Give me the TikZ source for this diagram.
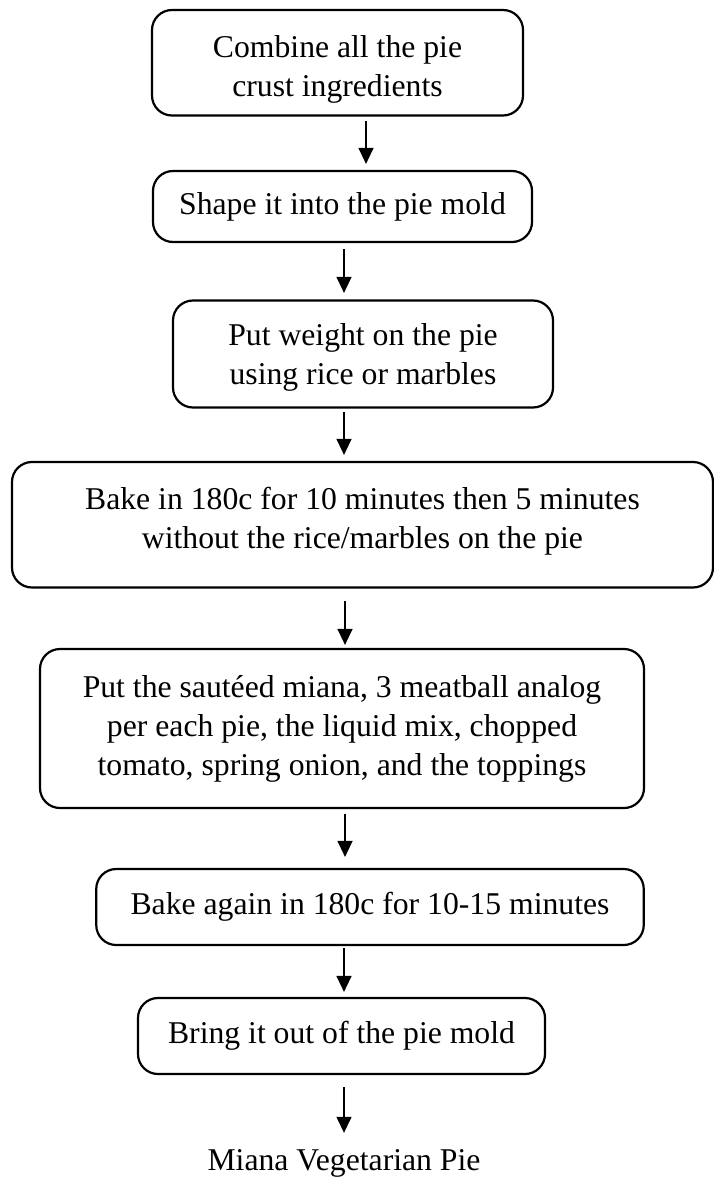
\documentclass[tikz,border=0pt]{standalone}
\usepackage{fontspec}
\setmainfont{Liberation Serif}
\usetikzlibrary{arrows.meta}
\newcommand{\mylines}[3]{\raisebox{0pt}[\dimexpr\height+#1\relax][\dimexpr\depth+#2\relax]{\begin{tabular}{@{}c@{}}#3\end{tabular}}}
\begin{document}
\begin{tikzpicture}[x=1pt,y=-1pt,
  stepbox/.style={draw, line width=2.2pt, rounded corners=20pt, inner sep=0pt, align=center,
    font=\fontsize{31.7}{39}\selectfont},
  arr/.style={line width=1.3pt, -{Triangle[length=16pt,width=15pt]}},
  plain/.style={inner sep=0pt, font=\fontsize{31.7}{39}\selectfont}]
\useasboundingbox (0,0) rectangle (714,1177);
\node[stepbox, minimum width=371pt, minimum height=105.5pt] (b1) at (337.5,62.75) {\mylines{12pt}{0pt}{Combine all the pie\\crust ingredients}};
\node[stepbox, minimum width=379pt, minimum height=71pt] (b2) at (342.5,206.5) {Shape it into the pie mold};
\node[stepbox, minimum width=380pt, minimum height=107pt] (b3) at (363,354) {\mylines{6pt}{0pt}{Put weight on the pie\\using rice or marbles}};
\node[stepbox, minimum width=701pt, minimum height=125.5pt] (b4) at (362.5,524.75) {\mylines{0pt}{8pt}{Bake in 180c for 10 minutes then 5 minutes\\without the rice/marbles on the pie}};
\node[stepbox, minimum width=604pt, minimum height=159pt] (b5) at (342,728.5) {\mylines{0pt}{0pt}{Put the saut\'eed miana, 3 meatball analog\\per each pie, the liquid mix, chopped\\tomato, spring onion, and the toppings}};
\node[stepbox, minimum width=547.5pt, minimum height=76pt] (b6) at (370,907) {Bake again in 180c for 10-15 minutes};
\node[stepbox, minimum width=407pt, minimum height=76pt] (b7) at (341.5,1036) {Bring it out of the pie mold};
\node[plain, anchor=base] (fin) at (344,1170) {Miana Vegetarian Pie};
\coordinate (xa) at (366,0);
\coordinate (xb) at (344,0);
\coordinate (xc) at (345,0);
\draw[arr, shorten <=4.5pt, shorten >=6pt] (b1.south -| xa) -- (b2.north -| xa);
\draw[arr, shorten <=6pt, shorten >=6.5pt] (b2.south -| xb) -- (b3.north -| xb);
\draw[arr, shorten <=3.5pt, shorten >=6pt] (b3.south -| xb) -- (b4.north -| xb);
\draw[arr, shorten <=12.5pt, shorten >=3pt] (b4.south -| xc) -- (b5.north -| xc);
\draw[arr, shorten <=5pt, shorten >=11pt] (b5.south -| xc) -- (b6.north -| xc);
\draw[arr, shorten <=2pt, shorten >=5pt] (b6.south -| xb) -- (b7.north -| xb);
\draw[arr, shorten <=12pt, shorten >=16pt] (b7.south -| xb) -- (fin.north -| xb);
\end{tikzpicture}
\end{document}
